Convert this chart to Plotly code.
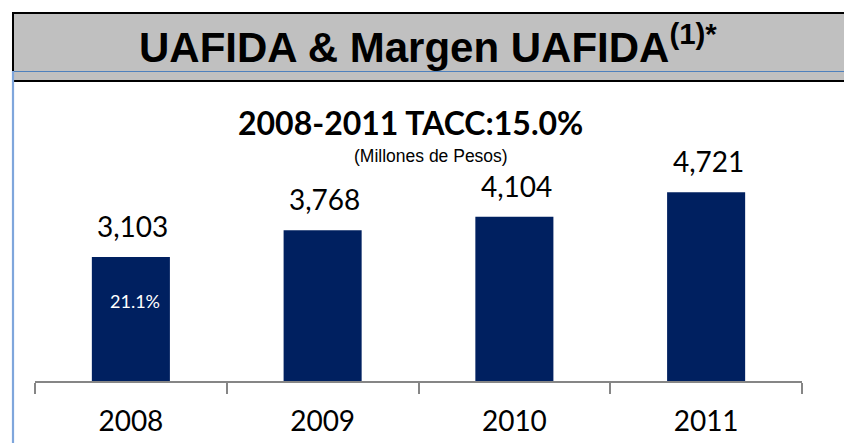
import plotly.graph_objects as go

# ---- data ----
years = ["2008", "2009", "2010", "2011"]
uafida = [3103, 3768, 4104, 4721]
value_labels = ["3,103", "3,768", "4,104", "4,721"]
margin_labels = ["21.1%", "", "", ""]

title_text = "UAFIDA & Margen UAFIDA<sup>(1)*</sup>"
subtitle_text = "2008-2011 TACC:15.0%"
unit_text = "(Millones de Pesos)"

W, H = 844, 443
BAR_COLOR = "#002060"

def px(x):
    return x / W

def py(y):
    return 1 - y / H

fig = go.Figure()
fig.add_trace(go.Bar(
    x=years, y=uafida, marker=dict(color=BAR_COLOR, line=dict(width=0)),
    width=0.407, hoverinfo="skip",
))

annotations = []
for i, (v, lab, m) in enumerate(zip(uafida, value_labels, margin_labels)):
    annotations.append(dict(
        x=i, y=v, xref="x", yref="y", text=lab, showarrow=False,
        yanchor="bottom", yshift=12, xshift=2,
        font=dict(family="Lato", size=28, color="#000000"),
    ))
    if m:
        annotations.append(dict(
            x=i, y=v, xref="x", yref="y", text=m, showarrow=False,
            yanchor="middle", yshift=-44, xshift=4,
            font=dict(family="Lato", size=18, color="#ffffff"),
        ))

# header title
annotations.append(dict(
    x=px(428), y=py(44), xref="paper", yref="paper", text=title_text,
    showarrow=False, xanchor="center", yanchor="middle",
    font=dict(family="Liberation Sans, Arial", size=42, color="#000000", weight="bold"),
))
annotations.append(dict(
    x=px(410), y=py(123), xref="paper", yref="paper", text=subtitle_text,
    showarrow=False, xanchor="center", yanchor="middle",
    font=dict(family="Lato", size=32, color="#000000", weight="bold"),
))
annotations.append(dict(
    x=px(431), y=py(156), xref="paper", yref="paper", text=unit_text,
    showarrow=False, xanchor="center", yanchor="middle",
    font=dict(family="Liberation Sans, Arial", size=17.5, color="#000000"),
))

shapes = [
    # header band
    dict(type="rect", xref="paper", yref="paper",
         x0=px(13), x1=px(W + 10), y0=py(13), y1=py(81),
         fillcolor="#c0c0c0", line=dict(color="#000000", width=2), layer="below"),
    # thin blue line inside header
    dict(type="line", xref="paper", yref="paper",
         x0=px(13), x1=px(W), y0=py(71.5), y1=py(71.5),
         line=dict(color="#4f81bd", width=1.2)),
    # left blue vertical rule
    dict(type="line", xref="paper", yref="paper",
         x0=px(13), x1=px(13), y0=py(71), y1=py(H + 5),
         line=dict(color="#7fa6dc", width=2.2)),
]

fig.update_layout(
    width=W, height=H,
    margin=dict(l=0, r=0, t=0, b=0),
    paper_bgcolor="#ffffff", plot_bgcolor="#ffffff",
    showlegend=False,
    bargap=0.6,
    annotations=annotations,
    shapes=shapes,
    xaxis=dict(
        type="category",
        domain=[px(35), px(802)], range=[-0.5, 3.5],
        showgrid=False, zeroline=False,
        showline=True, linecolor="#868686", linewidth=2,
        ticks="outside", tickson="boundaries", ticklen=11, tickwidth=2, tickcolor="#868686",
        tickfont=dict(family="Lato", size=28, color="#000000"),
        ticklabelstandoff=14,
    ),
    yaxis=dict(
        domain=[py(381), py(101)], range=[0, 7000],
        visible=False, showgrid=False, zeroline=False,
    ),
)

fig.write_html(
    "out.html",
    config={"displayModeBar": False},
    post_script="document.body.style.margin='0';document.body.style.overflow='hidden';",
)
